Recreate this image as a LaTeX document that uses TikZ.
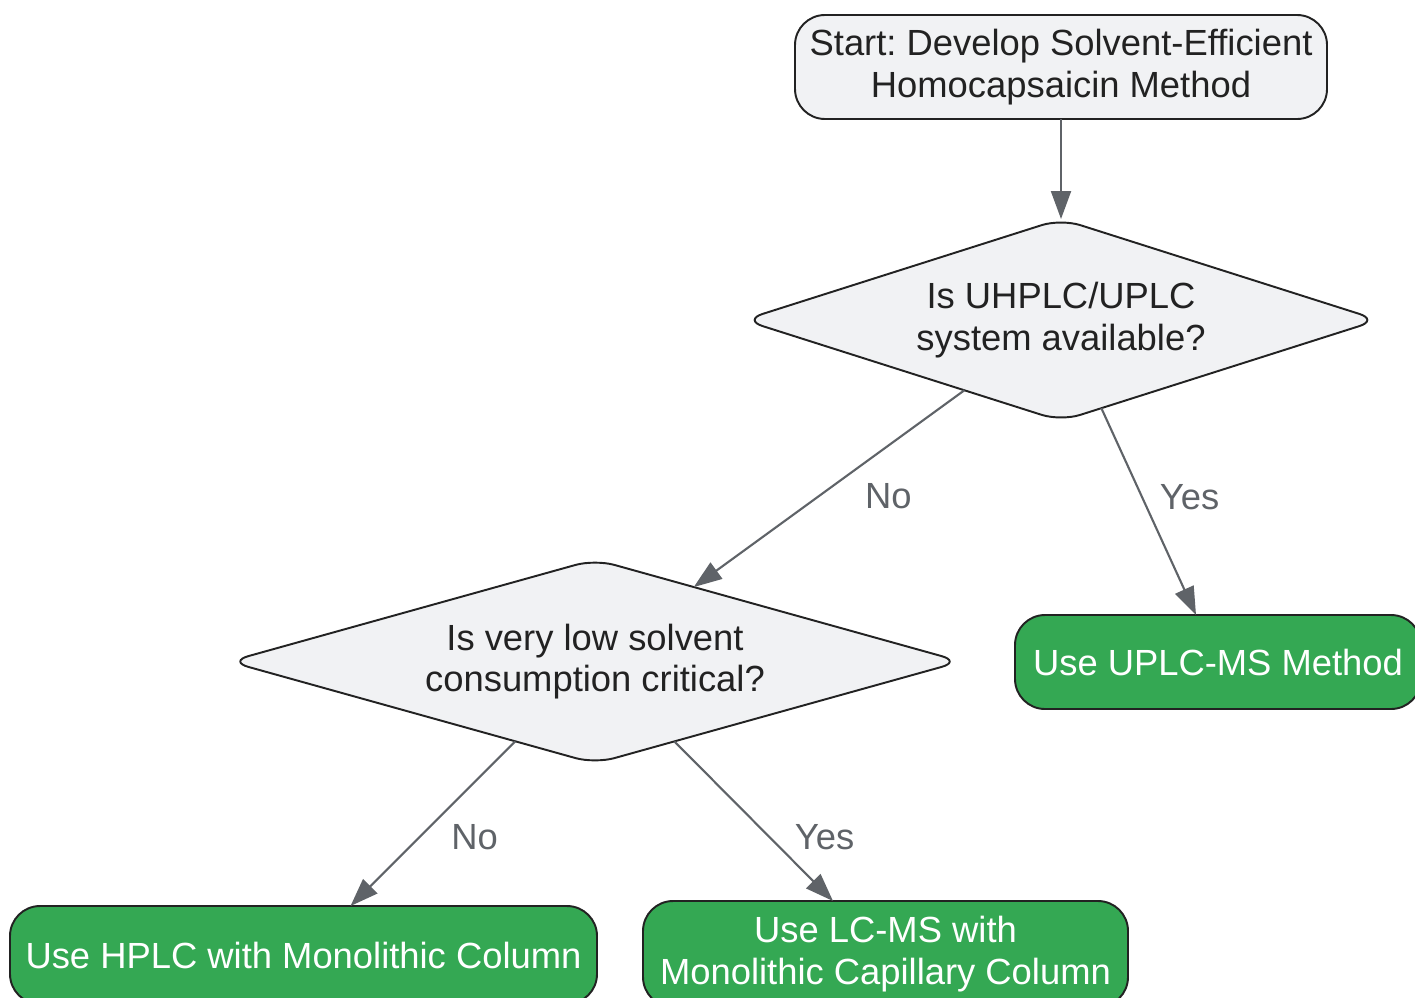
\documentclass[tikz,border=0pt]{standalone}
\usepackage{fontspec}
\setmainfont{Liberation Sans}
\usepackage{tikz}
\usetikzlibrary{shapes.geometric}
\usetikzlibrary{arrows.meta}
\definecolor{boxgray}{HTML}{F1F2F4}
\definecolor{boxgreen}{HTML}{34A853}
\definecolor{linegray}{HTML}{5F6368}
\definecolor{textdark}{HTML}{222222}
\newcommand\flowfont{\fontsize{20.7}{23.8}\selectfont}
\frenchspacing

\begin{document}
\begin{tikzpicture}[
	startbox/.style={draw=textdark, line width=1.1pt, fill=boxgray, rounded corners=0.6cm, text=textdark, align=center, font=\flowfont, inner sep=0, outer sep=0},
	choice/.style={diamond, aspect=3, draw=textdark, line width=1.1pt, fill=boxgray, rounded corners=0.4cm, text=textdark, align=center, font=\flowfont, inner sep=0, outer sep=0},
	endbox/.style={draw=textdark, line width=1.1pt, fill=boxgreen, rounded corners=0.6cm, text=white, align=center, font=\flowfont, inner sep=0, outer sep=0},
	flow/.style={linegray, line width=1.2pt, -{Triangle[length=0.56cm, width=0.4cm]}},
	lbl/.style={text=linegray, font=\flowfont, xshift=1.1cm}
]
	\useasboundingbox (0, 0) rectangle (28.3, -19.94);
	\clip (0, 0) rectangle (28.3, -19.94);
	\node[startbox, minimum width=10.64cm, minimum height=2.08cm] (start) at (21.22, -1.34) {Start: Develop Solvent-Efficient\\Homocapsaicin Method};
	\node[choice, minimum width=12.7cm, minimum height=4.04cm] (uhplc) at (21.22, -6.40) {Is UHPLC/UPLC\\system available?};
	\node[choice, minimum width=14.64cm, minimum height=4.08cm] (solvent) at (11.9, -13.23) {Is very low solvent\\consumption critical?};
	\node[endbox, minimum width=8.12cm, minimum height=1.88cm] (uplcms) at (24.36, -13.24) {Use UPLC-MS Method};
	\node[endbox, minimum width=11.74cm, minimum height=1.96cm] (hplc) at (6.07, -19.10) {Use HPLC with Monolithic Column};
	\node[endbox, minimum width=9.7cm, minimum height=2.12cm] (lcms) at (17.71, -19.08) {Use LC-MS with\\Monolithic Capillary Column};
	\draw[flow] (start) -- (uhplc);
	\draw[flow] (uhplc) -- (solvent.37) node[lbl, pos=0.54, xshift=0.3cm] {No};
	\draw[flow] (uhplc) -- ([xshift=-0.44cm]uplcms.north) node[lbl, pos=0.43, xshift=-0.15cm] {Yes};
	\draw[flow] (solvent) -- ([xshift=0.94cm]hplc.north) node[lbl, pos=0.58] {No};
	\draw[flow] (solvent) -- ([xshift=-1.05cm]lcms.north) node[lbl, pos=0.6] {Yes};
\end{tikzpicture}
\end{document}
